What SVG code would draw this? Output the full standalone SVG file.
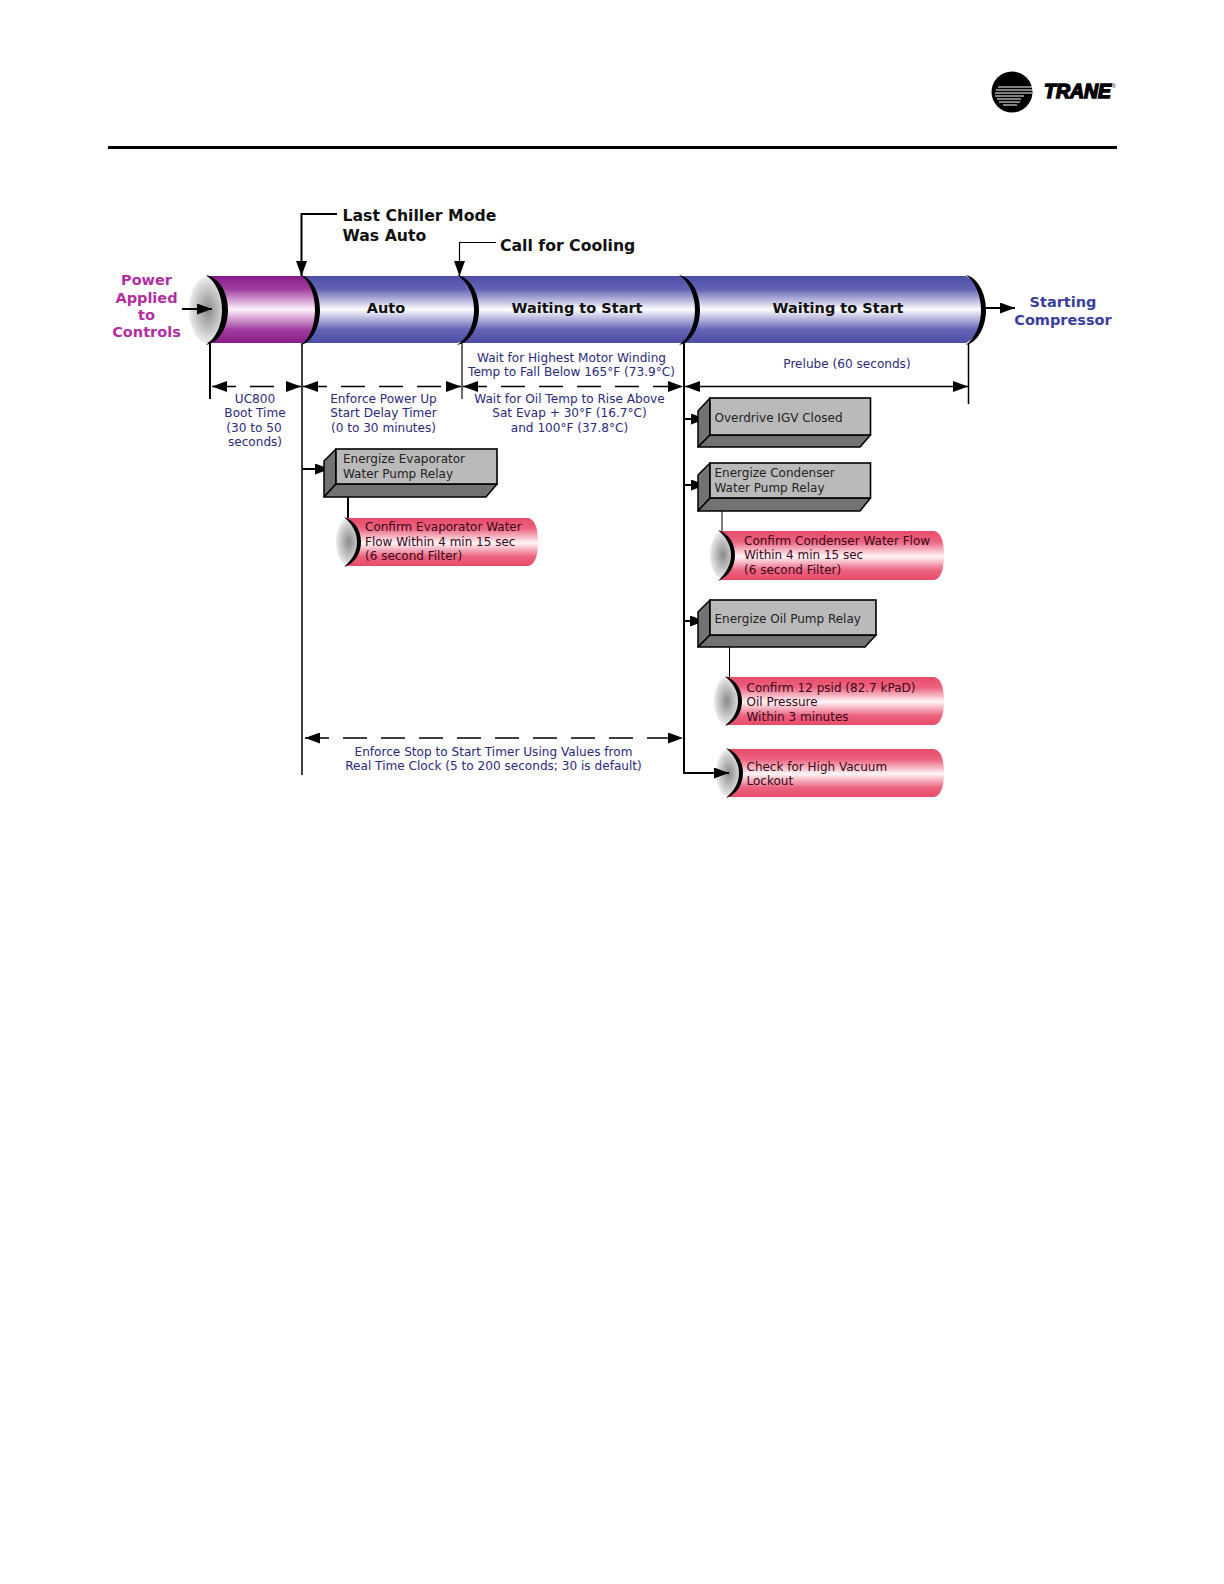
<svg xmlns="http://www.w3.org/2000/svg" width="1224" height="1584" viewBox="0 0 1224 1584">
<style>
text{font-family:"DejaVu Sans",Verdana,sans-serif}
.b{font-weight:bold;font-size:15.7px;fill:#111}
.m{font-weight:bold;font-size:14.5px;fill:#b0309f;text-anchor:middle}
.s{font-weight:bold;font-size:14.5px;fill:#3a3f9f;text-anchor:middle}
.t{font-weight:bold;font-size:14.5px;fill:#111;text-anchor:middle}
.n{font-size:12.1px;fill:#2a2a78;text-anchor:middle}
.g{font-size:12px;fill:#222}
.r{font-size:12px;fill:#3a0818}
.l{fill:none;stroke:#000;stroke-width:2}
.d{fill:none;stroke:#000;stroke-width:1.3;stroke-dasharray:24 14}
.front{fill:#bababa;stroke:#000;stroke-width:1.6}
.side{fill:#727272;stroke:#000;stroke-width:1.5;stroke-linejoin:round}
</style>
<defs>
<linearGradient id="blue" x1="0" y1="0" x2="0" y2="1"><stop offset="0" stop-color="#4d4da6"/><stop offset=".2" stop-color="#6464b6"/><stop offset=".5" stop-color="#fdfdff"/><stop offset=".8" stop-color="#6464b6"/><stop offset="1" stop-color="#4d4da6"/></linearGradient>
<linearGradient id="mag" x1="0" y1="0" x2="0" y2="1"><stop offset="0" stop-color="#8a1a8a"/><stop offset=".2" stop-color="#a03fa0"/><stop offset=".5" stop-color="#fff0fb"/><stop offset=".8" stop-color="#a03fa0"/><stop offset="1" stop-color="#8a1a8a"/></linearGradient>
<linearGradient id="red" x1="0" y1="0" x2="0" y2="1"><stop offset="0" stop-color="#e84a68"/><stop offset=".22" stop-color="#ec6480"/><stop offset=".52" stop-color="#fff6f8"/><stop offset=".8" stop-color="#ec6480"/><stop offset="1" stop-color="#e84a68"/></linearGradient>
<radialGradient id="cap"><stop offset="0" stop-color="#8a8a8a"/><stop offset=".6" stop-color="#c4c4c4"/><stop offset="1" stop-color="#ececec"/></radialGradient>
<marker id="ah" viewBox="0 0 15 11" refX="15" refY="5.500" markerWidth="15" markerHeight="11" markerUnits="userSpaceOnUse" orient="auto-start-reverse"><path d="M0 0L15 5.500L0 11z" fill="#000"/></marker>
</defs>

<g id="header">
<rect x="108" y="146" width="1009" height="3" fill="#000"/>
<circle cx="1012" cy="92" r="20.5" fill="#000"/>
<g stroke="#fff" stroke-width="1"><path d="M998 87H1032M996 90H1033M995 93H1032M995 96H1024M997 99H1021M999 102H1020M1003 105H1017"/></g>
<text x="1044" y="98" style="font-family:'Liberation Sans',sans-serif;font-weight:bold;font-style:italic;font-size:20px" stroke="#000" stroke-width="1.5" textLength="67" lengthAdjust="spacingAndGlyphs">TRANE</text>
<text x="1112" y="88" style="font-family:'Liberation Sans',sans-serif;font-size:5px">®</text>
</g>

<g id="main-tube">
<g id="seg-4"><path d="M680 276H966C980 285 985 298 985 310C985 322 980 335 966 343H680z" fill="url(#blue)"/></g>
<g id="seg-3"><path d="M460 276H680C693 285 699 298 699 310C699 322 693 335 680 343H460z" fill="url(#blue)"/></g>
<g id="seg-2"><path d="M302 276H458C472 285 478 298 478 310C478 322 472 335 458 343H302z" fill="url(#blue)"/></g>
<g id="seg-1"><ellipse cx="208" cy="310" rx="19" ry="33.500" fill="url(#cap)"/><path d="M207 276H302C314 285 319 298 319 310C319 322 314 335 302 343H207C221 335 227 322 227 310C227 298 221 285 207 276z" fill="url(#mag)"/></g>
<g fill="#000" id="arcs">
<path d="M206 275C221 278 228 295 228 310C228 325 221 342 206 345C216 338 222 325 222 310C222 295 216 282 206 275z"/>
<path d="M301 275C313 278 320 295 320 310C320 325 313 342 301 345C310 338 315 325 315 310C315 295 310 282 301 275z"/>
<path d="M457 275C472 278 479 295 479 310C479 325 472 342 457 345C468 338 474 325 474 310C474 295 468 282 457 275z"/>
<path d="M679 275C693 278 700 295 700 310C700 325 693 342 679 345C689 338 695 325 695 310C695 295 689 282 679 275z"/>
<path d="M966 275C979 278 986 295 986 310C986 325 979 342 966 345C975 338 981 325 981 310C981 295 975 282 966 275z"/>
</g>
<text class="t" x="386" y="313">Auto</text>
<text class="t" x="577" y="313">Waiting to Start</text>
<text class="t" x="838" y="313">Waiting to Start</text>
</g>

<g id="connectors">
<path class="l" d="M337 214H301.500V276" marker-end="url(#ah)"/>
<path class="l" d="M496 242.500H459.500V276" style="stroke-width:1.2" marker-end="url(#ah)"/>
<path class="l" d="M182 309H212" marker-end="url(#ah)"/>
<path class="l" d="M986 308H1015" marker-end="url(#ah)"/>
<path class="l" d="M210 343V399"/>
<path class="l" style="stroke-width:1.5" d="M302 343V775"/>
<path class="l" style="stroke-width:1.2" d="M462 343V399"/>
<path class="l" d="M684 343V773"/>
<path class="l" d="M968.500 343V404" style="stroke-width:1.5"/>
<path class="d" d="M212 386.500H301" marker-start="url(#ah)" marker-end="url(#ah)"/>
<path class="d" d="M303 386.500H461" marker-start="url(#ah)" marker-end="url(#ah)"/>
<path class="d" d="M463 386.500H683" marker-start="url(#ah)" marker-end="url(#ah)"/>
<path class="l" style="stroke-width:1.3" d="M685 386.500H968" marker-start="url(#ah)" marker-end="url(#ah)"/>
<path class="d" d="M305 738H683" marker-start="url(#ah)" marker-end="url(#ah)"/>
<path class="l" d="M302 469H330" marker-end="url(#ah)"/>
<path class="l" d="M684 419H706" marker-end="url(#ah)"/>
<path class="l" d="M684 485H706" marker-end="url(#ah)"/>
<path class="l" d="M684 621H705" marker-end="url(#ah)"/>
</g>

<g id="box-evap"><path class="side" d="M324 461L336 449V484L324 497z"/><path class="side" d="M324 497L336 484H497L486 497z"/><rect class="front" x="336" y="449" width="161" height="35"/><text class="g" x="343" y="463">Energize Evaporator</text><text class="g" x="343" y="478">Water Pump Relay</text></g>
<g id="box-igv"><path class="side" d="M698 411L710 398V435L698 447z"/><path class="side" d="M698 447L710 435H870.500L860 447z"/><rect class="front" x="710" y="398" width="160.500" height="37"/><text class="g" x="714.500" y="421.500">Overdrive IGV Closed</text></g>
<g id="box-cond"><path class="side" d="M698 475L710 463V498L698 511z"/><path class="side" d="M698 511L710 498H870.500L860 511z"/><rect class="front" x="710" y="463" width="160.500" height="35"/><text class="g" x="714.500" y="477">Energize Condenser</text><text class="g" x="714.500" y="492">Water Pump Relay</text></g>
<g id="box-oil"><path class="side" d="M698 612L710 600V635L698 647z"/><path class="side" d="M698 647L710 635H876L865 647z"/><rect class="front" x="710" y="600" width="166" height="35"/><text class="g" x="714.500" y="623">Energize Oil Pump Relay</text></g>

<g id="links"><path d="M348 497V518" stroke="#000" stroke-width="2"/><path d="M722 511V531" stroke="#000" stroke-width="1"/><path d="M729.500 647V677" stroke="#000" stroke-width="1"/></g>

<g id="tube-evap"><ellipse cx="349" cy="542" rx="13" ry="24" fill="url(#cap)"/><path d="M345 518H528Q538 520 538 542Q538 564 528 566H345Q360 556 360 542Q360 528 345 518z" fill="url(#red)"/><path d="M344 517C356 521 361 532 361 542C361 552 356 563 344 567C352 560 357 552 357 542C357 532 352 524 344 517z"/><text class="r" x="365" y="531">Confirm Evaporator Water</text><text class="r" x="365" y="546">Flow Within 4 min 15 sec</text><text class="r" x="365" y="560">(6 second Filter)</text></g>
<g id="tube-cond"><ellipse cx="723" cy="555" rx="13" ry="24" fill="url(#cap)"/><path d="M719 531H934Q944 533 944 555Q944 578 934 580H719Q734 570 734 555Q734 541 719 531z" fill="url(#red)"/><path d="M718 530C730 534 735 545 735 555C735 565 730 576 718 581C726 573 731 565 731 555C731 545 726 537 718 530z"/><text class="r" x="744" y="545">Confirm Condenser Water Flow</text><text class="r" x="744" y="559">Within 4 min 15 sec</text><text class="r" x="744" y="574">(6 second Filter)</text></g>
<g id="tube-oil"><ellipse cx="727" cy="701" rx="13" ry="24" fill="url(#cap)"/><path d="M725 677H934Q944 679 944 701Q944 723 934 725H725Q740 715 740 701Q740 687 725 677z" fill="url(#red)"/><path d="M725 676C737 680 742 691 742 701C742 711 737 722 725 726C733 719 738 711 738 701C738 691 733 683 725 676z"/><text class="r" x="746.500" y="692">Confirm 12 psid (82.7 kPaD)</text><text class="r" x="746.500" y="706">Oil Pressure</text><text class="r" x="746.500" y="721">Within 3 minutes</text></g>
<g id="tube-vacuum"><ellipse cx="729" cy="773" rx="13" ry="24" fill="url(#cap)"/><path d="M727 749H934Q944 751 944 773Q944 795 934 797H727Q741 787 741 773Q741 759 727 749z" fill="url(#red)"/><path d="M726 748C738 752 743 763 743 773C743 783 738 794 726 798C734 791 739 783 739 773C739 763 734 755 726 748z"/><text class="r" x="746.500" y="771">Check for High Vacuum</text><text class="r" x="746.500" y="785">Lockout</text></g>
<path d="M683 773H729" class="l" marker-end="url(#ah)"/>

<g id="labels">
<text class="b" x="342.500" y="221">Last Chiller Mode</text>
<text class="b" x="342.500" y="241">Was Auto</text>
<text class="b" x="500" y="251">Call for Cooling</text>
<text class="m" x="146.500" y="285">Power</text><text class="m" x="146.500" y="303">Applied</text><text class="m" x="146.500" y="320">to</text><text class="m" x="146.500" y="337">Controls</text>
<text class="s" x="1063" y="307">Starting</text><text class="s" x="1063" y="325">Compressor</text>
<text class="n" x="571.500" y="362">Wait for Highest Motor Winding</text><text class="n" x="571.500" y="376">Temp to Fall Below 165°F (73.9°C)</text>
<text class="n" x="847" y="368">Prelube (60 seconds)</text>
<text class="n" x="255" y="403">UC800</text><text class="n" x="255" y="417">Boot Time</text><text class="n" x="254" y="431.500">(30 to 50</text><text class="n" x="255" y="446">seconds)</text>
<text class="n" x="383.500" y="403">Enforce Power Up</text><text class="n" x="383.500" y="417">Start Delay Timer</text><text class="n" x="383.500" y="431.500">(0 to 30 minutes)</text>
<text class="n" x="569.500" y="403">Wait for Oil Temp to Rise Above</text><text class="n" x="569.500" y="417">Sat Evap + 30°F (16.7°C)</text><text class="n" x="569.500" y="431.500">and 100°F (37.8°C)</text>
<text class="n" x="493.500" y="756">Enforce Stop to Start Timer Using Values from</text><text class="n" x="493.500" y="770">Real Time Clock (5 to 200 seconds; 30 is default)</text>
</g>
</svg>
